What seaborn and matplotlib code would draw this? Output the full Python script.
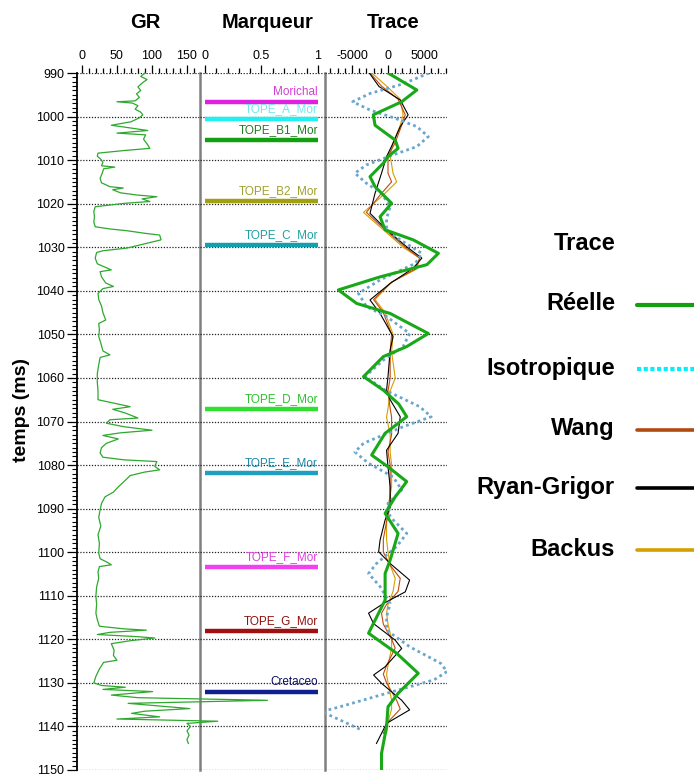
import matplotlib
matplotlib.use("Agg")
import matplotlib.pyplot as plt
import seaborn as sns
import pandas as pd
from matplotlib.lines import Line2D
from matplotlib.ticker import MultipleLocator, FuncFormatter

# --- Data ---
gr_time = [990.0, 990.8, 991.5, 992.3, 993.2, 994.0, 994.8, 995.6, 996.4, 996.6, 996.9, 997.5,
           998.3, 999.0, 999.6, 1000.3, 1001.2, 1002.0, 1002.4, 1003.2, 1003.8, 1004.2, 1005.2,
           1006.5, 1007.3, 1007.8, 1008.4, 1009.1, 1009.8, 1010.5, 1011.3, 1011.6, 1012.0, 1013.0,
           1014.2, 1015.2, 1016.1, 1016.4, 1016.8, 1017.5, 1018.0, 1018.4, 1018.9, 1019.5, 1019.9,
           1020.7, 1021.8, 1023.0, 1024.2, 1025.3, 1025.8, 1026.2, 1026.8, 1027.2, 1028.3, 1029.0,
           1030.2, 1030.8, 1031.2, 1032.5, 1033.8, 1035.2, 1035.6, 1036.8, 1038.2, 1039.0, 1039.5,
           1040.6, 1042.0, 1043.5, 1045.0, 1046.7, 1047.5, 1049.0, 1050.5, 1052.0, 1053.8, 1054.7,
           1055.3, 1057.0, 1059.0, 1061.0, 1063.0, 1065.0, 1066.6, 1067.2, 1068.0, 1069.2, 1069.6,
           1070.4, 1071.2, 1072.0, 1072.6, 1073.2, 1074.0, 1075.0, 1076.0, 1077.2, 1078.2, 1078.8,
           1079.2, 1080.3, 1081.1, 1081.6, 1082.4, 1083.5, 1085.0, 1086.2, 1087.3, 1088.8, 1090.3,
           1092.0, 1094.0, 1096.0, 1098.0, 1100.2, 1101.5, 1102.3, 1102.9, 1103.3, 1104.5, 1106.0,
           1108.0, 1110.0, 1112.0, 1114.0, 1115.5, 1117.0, 1117.6, 1117.9, 1118.4, 1118.9, 1119.4,
           1119.7, 1120.3, 1121.0, 1122.5, 1123.7, 1124.8, 1125.3, 1126.8, 1128.5, 1130.0, 1130.6,
           1131.0, 1131.5, 1132.0, 1132.8, 1133.4, 1134.0, 1134.7, 1135.3, 1135.9, 1136.5, 1137.0,
           1137.8, 1138.3, 1138.8, 1139.3, 1140.0, 1141.0, 1142.0, 1143.0, 1143.9]
gr_value = [90, 84, 93, 86, 80, 84, 78, 82, 76, 50, 72, 80,
            76, 84, 87, 82, 70, 42, 60, 94, 50, 91, 88,
            94, 97, 60, 23, 22, 27, 30, 28, 47, 31, 29,
            26, 28, 40, 59, 44, 55, 78, 107, 86, 97, 62,
            19, 17, 18, 17, 19, 40, 64, 90, 111, 113, 95,
            64, 30, 21, 19, 22, 42, 26, 28, 34, 45, 30,
            23, 24, 28, 30, 34, 24, 25, 24, 27, 30, 40,
            26, 24, 22, 22, 23, 23, 69, 44, 61, 80, 40,
            35, 60, 100, 55, 30, 52, 35, 28, 26, 30, 60,
            107, 104, 111, 90, 69, 62, 52, 45, 33, 28, 26,
            24, 27, 23, 25, 24, 26, 36, 42, 25, 23, 24,
            21, 20, 21, 20, 22, 25, 60, 92, 40, 22, 80,
            104, 70, 42, 46, 45, 50, 31, 25, 20, 17, 28,
            62, 30, 101, 42, 80, 265, 66, 110, 154, 90, 71,
            111, 50, 194, 150, 155, 150, 153, 150, 152]

reelle_time = [990.0, 993.9, 996.6, 999.6, 1002.0, 1005.4, 1007.3, 1009.2, 1010.7, 1013.8, 1016.1,
               1019.9, 1023.0, 1026.0, 1028.3, 1031.4, 1034.0, 1036.8, 1039.8, 1042.9, 1045.2,
               1049.8, 1052.8, 1055.1, 1059.7, 1062.8, 1066.0, 1068.9, 1072.7, 1077.7, 1080.4,
               1083.8, 1087.3, 1091.1, 1095.7, 1101.8, 1104.9, 1111.0, 1118.6, 1123.2, 1127.8,
               1132.4, 1135.5, 1140.0, 1146.2, 1150.0]
reelle_amp = [0, 4000, 1900, -2040, -1800, 1000, 1400, 0, -650, -2500, -1800,
              500, -1100, -400, 3500, 7000, 5400, -1100, -6900, -4350, 300,
              5600, 2600, -650, -3400, -650, 1500, 2600, -400, -2270, 0,
              2600, 1000, -400, 1400, 300, -400, -400, -2700, 1200, 4200,
              1400, 0, -200, -900, -900]

iso_time = [990.0, 992.5, 994.7, 996.6, 998.5, 1000.4, 1002.3, 1004.6, 1006.9, 1008.8, 1011.1,
            1013.0, 1015.3, 1017.6, 1020.7, 1023.4, 1026.0, 1028.3, 1031.4, 1033.7, 1037.5,
            1040.6, 1043.6, 1045.9, 1049.8, 1052.8, 1055.9, 1059.7, 1062.8, 1066.6, 1068.9,
            1071.2, 1075.0, 1077.0, 1079.6, 1082.7, 1085.7, 1088.8, 1091.9, 1095.7, 1098.7,
            1102.6, 1104.9, 1107.9, 1111.8, 1114.8, 1117.9, 1121.7, 1125.5, 1127.4, 1129.3,
            1132.4, 1135.5, 1136.6, 1138.5, 1140.8]
iso_amp = [5700, 2100, -2500, -4900, -2500, 1000, 4000, 5600, 4000, 700, -3000,
           -4600, -3000, -900, 300, -200, -200, 1700, 4700, 3800, -1100,
           -4100, -3000, -200, 3000, 2100, -650, -3200, -400, 4400, 6000,
           2100, -3400, -4600, -2700, 700, 1900, 0, 300, 2600, 1200,
           -1600, -2700, -1100, 300, -200, -200, 3000, 7300, 8200, 6400,
           -200, -6700, -9200, -6700, -3700]

wang_time = [990.0, 993.0, 996.0, 999.6, 1002.0, 1006.0, 1009.0, 1013.0, 1015.0, 1018.0, 1022.0,
             1026.0, 1030.0, 1032.5, 1035.0, 1038.0, 1042.0, 1045.0, 1050.0, 1054.0, 1060.0,
             1063.0, 1067.0, 1069.0, 1073.0, 1077.0, 1080.0, 1085.0, 1089.6, 1093.0, 1097.0,
             1100.0, 1103.0, 1106.0, 1109.0, 1112.0, 1114.0, 1116.5, 1120.0, 1122.0, 1126.0,
             1128.0, 1130.0, 1134.0, 1136.0, 1139.0, 1141.6]
wang_amp = [-2500, -900, 1400, 2400, 1900, 1000, 0, 0, 500, -1100, -3000,
            -400, 2400, 4400, 3800, 500, -2000, -650, 500, 300, 300,
            0, 300, 500, 500, 0, 300, 300, 300, -200, -650,
            -650, 300, 1700, 1400, -200, -900, -650, 500, 1000, -200,
            -650, -200, 1200, 1700, 0, -650]

ryan_time = [990.0, 993.1, 996.2, 999.6, 1002.3, 1006.1, 1009.2, 1013.0, 1017.6, 1022.2, 1026.0,
             1029.9, 1032.5, 1034.8, 1038.3, 1042.1, 1045.2, 1050.5, 1053.6, 1059.7, 1062.8,
             1065.0, 1068.9, 1072.7, 1076.6, 1080.4, 1085.0, 1089.6, 1092.6, 1097.2, 1099.9,
             1102.6, 1106.4, 1109.1, 1111.8, 1114.0, 1116.4, 1120.2, 1122.1, 1126.3, 1128.2,
             1130.1, 1134.0, 1136.2, 1139.3, 1141.6, 1143.9]
ryan_amp = [-2600, -1250, 1700, 2800, 1700, 700, -200, -900, -1800, -2500, -200,
            2600, 4700, 3500, 300, -2500, -1100, 700, 300, 0, -200,
            300, 1700, 1400, -200, 0, 300, 300, -400, -1100, -1300,
            300, 3000, 2400, -650, -2700, -2000, 1000, 1900, -400, -2000,
            -900, 1900, 3000, -200, -900, -1600]

backus_time = [990.0, 993.0, 996.0, 999.6, 1002.0, 1006.0, 1009.0, 1013.0, 1015.0, 1018.0, 1022.0,
               1026.0, 1030.0, 1032.5, 1035.0, 1038.0, 1042.0, 1045.0, 1050.0, 1054.0, 1060.0,
               1063.0, 1067.0, 1069.0, 1073.0, 1077.0, 1080.0, 1085.0, 1089.6, 1093.0, 1097.0,
               1100.0, 1103.0, 1106.0, 1109.0, 1112.0, 1114.0, 1116.5, 1120.0, 1122.0, 1126.0,
               1128.0, 1130.0, 1134.0, 1136.0, 1139.0, 1141.6]
backus_amp = [-2250, -200, 1700, 2100, 1700, 700, 300, 700, 1200, -650, -3400,
              -650, 2100, 4400, 4000, 500, -1800, -400, 700, 500, 1000,
              300, 0, -200, 300, 300, 500, 500, 0, -200, -200,
              0, 300, 1000, 700, 0, -200, 0, 500, 500, 0,
              -200, 0, 500, 500, 0, -200]

marker_names = ["Morichal", "TOPE_A_Mor", "TOPE_B1_Mor", "TOPE_B2_Mor", "TOPE_C_Mor",
                "TOPE_D_Mor", "TOPE_E_Mor", "TOPE_F_Mor", "TOPE_G_Mor", "Cretaceo"]
marker_times = [996.7, 1000.6, 1005.4, 1019.4, 1029.5, 1067.1, 1081.8, 1103.4, 1118.1, 1132.1]

# --- Styles ---
marker_line_colors = ["#e020e0", "#20f0f0", "#10a010", "#a0a010", "#10a0b0",
                      "#30e030", "#20a0c0", "#f040f0", "#a01010", "#102090"]
marker_text_colors = ["#d040d0", "#70e8f0", "#208020", "#a0a030", "#20a0a0",
                      "#30c030", "#2088a8", "#e040e0", "#901010", "#101060"]

plt.rcParams["font.family"] = ["Liberation Sans", "DejaVu Sans"]
plt.rcParams["axes.unicode_minus"] = False

W, H = 694, 774
fig = plt.figure(figsize=(W / 100, H / 100), dpi=100)
b, h = 4 / H, 697 / H
ax_gr = fig.add_axes([77 / W, b, 123 / W, h])
ax_mk = fig.add_axes([200 / W, b, 125 / W, h])
ax_tr = fig.add_axes([325 / W, b, 122 / W, h])

fmt = FuncFormatter(lambda v, p: f"{v:g}")
for ax in (ax_gr, ax_mk, ax_tr):
    ax.set_facecolor("none")
    ax.set_ylim(1150, 990)
    ax.yaxis.set_major_locator(MultipleLocator(10))
    ax.yaxis.set_minor_locator(MultipleLocator(1))
    ax.yaxis.grid(True, which="major", linestyle=(0, (1, 1.3)), color="#222222", lw=0.9)
    ax.xaxis.tick_top()
    ax.xaxis.set_major_formatter(fmt)
    ax.tick_params(axis="x", which="major", length=6, width=0.9, labelsize=9, pad=2)
    ax.tick_params(axis="x", which="minor", length=3.5, width=0.9)
    for s in ax.spines.values():
        s.set_visible(False)
    ax.set_xlabel("")
    ax.set_ylabel("")

ax_gr.set_xlim(-7, 168.6)
ax_gr.xaxis.set_major_locator(MultipleLocator(50))
ax_gr.xaxis.set_minor_locator(MultipleLocator(10))
ax_mk.set_xlim(-0.044, 1.062)
ax_mk.xaxis.set_major_locator(MultipleLocator(0.5))
ax_mk.xaxis.set_minor_locator(MultipleLocator(0.1))
ax_tr.set_xlim(-8750, 8194)
ax_tr.xaxis.set_major_locator(MultipleLocator(5000))
ax_tr.xaxis.set_minor_locator(MultipleLocator(1000))

ax_gr.tick_params(axis="y", which="major", length=7, width=0.9, labelsize=9, pad=2)
ax_gr.tick_params(axis="y", which="minor", length=3.5, width=0.8)
for ax in (ax_mk, ax_tr):
    ax.tick_params(axis="y", which="both", left=False, labelleft=False)

ax_gr.spines["left"].set_visible(True)
ax_gr.spines["left"].set_color("black")
ax_gr.spines["left"].set_linewidth(1.3)
for ax in (ax_gr, ax_mk):
    ax.spines["right"].set_visible(True)
    ax.spines["right"].set_color("#808080")
    ax.spines["right"].set_linewidth(1.8)

# GR log
gr = pd.DataFrame({"time": gr_time, "GR": gr_value})
sns.lineplot(data=gr, x="GR", y="time", sort=False, estimator=None, ax=ax_gr,
             color="#2ea82e", lw=0.9, clip_on=False, zorder=5)

# Markers
ax_mk.hlines(marker_times, 0, 1, colors=marker_line_colors, lw=3.2)
for name, t, c in zip(marker_names, marker_times, marker_text_colors):
    ax_mk.text(1.0, t - 0.9, name, ha="right", va="bottom", fontsize=8.5, color=c)

# Traces
traces = [
    (backus_time, backus_amp, dict(color="#d4a000", lw=0.8)),
    (wang_time, wang_amp, dict(color="#c04a10", lw=0.8)),
    (ryan_time, ryan_amp, dict(color="black", lw=0.8)),
    (iso_time, iso_amp, dict(color="#6aa6cc", lw=2.0, linestyle=(0, (1, 1.2)))),
    (reelle_time, reelle_amp, dict(color="#18a818", lw=2.2)),
]
for t, a, kw in traces:
    df = pd.DataFrame({"time": t, "amp": a})
    sns.lineplot(data=df, x="amp", y="time", sort=False, estimator=None, ax=ax_tr, **kw)
for ax in (ax_gr, ax_mk, ax_tr):
    ax.set_xlabel("")
    ax.set_ylabel("")

# Titles and axis label
for x, s in [(145, "GR"), (268, "Marqueur"), (393, "Trace")]:
    fig.text(x / W, 1 - 22 / H, s, ha="center", va="center", fontsize=14.5, fontweight="bold")
fig.text(22 / W, 1 - 410 / H, "temps (ms)", rotation=90, ha="center", va="center",
         fontsize=14, fontweight="bold")

# Legend on the right
fig.text(615 / W, 1 - 244 / H, "Trace", ha="right", va="center", fontsize=17, fontweight="bold")
legend_items = [
    ("Réelle", 305, dict(color="#10a010", lw=3)),
    ("Isotropique", 369, dict(color="#00f0ff", lw=3, linestyle=(0, (1, 0.6)))),
    ("Wang", 430, dict(color="#b04a10", lw=2.6)),
    ("Ryan-Grigor", 488, dict(color="black", lw=2.6)),
    ("Backus", 550, dict(color="#d4a000", lw=2.6)),
]
for label, y, kw in legend_items:
    fig.text(615 / W, 1 - (y - 1) / H, label, ha="right", va="center", fontsize=17,
             fontweight="bold")
    fig.add_artist(Line2D([637 / W, 1.02], [1 - y / H, 1 - y / H],
                          transform=fig.transFigure, solid_capstyle="round", **kw))

fig.savefig("out.png", dpi=100)
